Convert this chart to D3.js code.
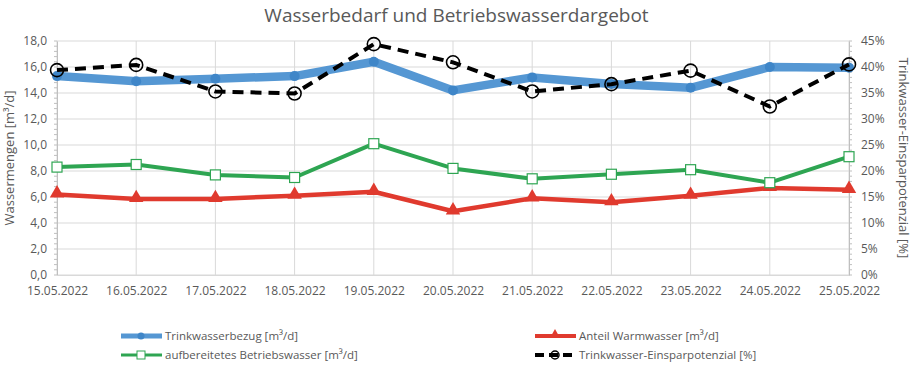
<!DOCTYPE html>
<html>
<head>
<meta charset="utf-8">
<script src="https://cdn.jsdelivr.net/npm/d3@7"></script>
<style>
  body { margin: 0; background: #fff; }
  text { font-family: "Open Sans", "DejaVu Sans", sans-serif; fill: #595959; }
</style>
</head>
<body>
<div id="chart"></div>
<script>
// data
const dates = ["15.05.2022", "16.05.2022", "17.05.2022", "18.05.2022", "19.05.2022", "20.05.2022",
               "21.05.2022", "22.05.2022", "23.05.2022", "24.05.2022", "25.05.2022"];
const trinkwasser = [15.3, 14.9, 15.1, 15.3, 16.4, 14.2, 15.2, 14.7, 14.4, 16.0, 15.95];
const warmwasser = [6.2, 5.85, 5.85, 6.1, 6.4, 4.9, 5.9, 5.6, 6.1, 6.7, 6.55];
const betriebswasser = [8.3, 8.5, 7.7, 7.5, 10.1, 8.2, 7.4, 7.75, 8.1, 7.1, 9.1];
const einsparpotenzial = [39.4, 40.4, 35.3, 34.9, 44.4, 40.9, 35.3, 36.7, 39.3, 32.4, 40.5];
const leftTicks = [0, 2, 4, 6, 8, 10, 12, 14, 16, 18];
const rightTicks = [0, 5, 10, 15, 20, 25, 30, 35, 40, 45];

const W = 913, H = 369;
const margin = {top: 41, right: 64, bottom: 94, left: 57};
const width = W - margin.left - margin.right,
      height = H - margin.top - margin.bottom;

const blue = "#5597d3", red = "#e03a2e", green = "#2ea552", black = "#000";

const svg = d3.select("#chart").append("svg")
  .attr("width", W).attr("height", H);

svg.append("text")
  .attr("x", W / 2).attr("y", 22)
  .attr("text-anchor", "middle")
  .style("font-size", "19px")
  .text("Wasserbedarf und Betriebswasserdargebot");

const g = svg.append("g")
  .attr("transform", "translate(" + margin.left + "," + margin.top + ")");

const xScale = d3.scalePoint().domain(dates).range([0, width]);
const yScale = d3.scaleLinear().domain([0, 18]).range([height, 0]);
const y2Scale = d3.scaleLinear().domain([0, 45]).range([height, 0]);

// grid
g.selectAll(".hgrid").data(leftTicks).join("line")
  .attr("x1", 0).attr("x2", width)
  .attr("y1", d => yScale(d)).attr("y2", d => yScale(d))
  .attr("stroke", "#d9d9d9").attr("stroke-width", 1);
g.selectAll(".vgrid").data(dates).join("line")
  .attr("x1", d => xScale(d)).attr("x2", d => xScale(d))
  .attr("y1", 0).attr("y2", height)
  .attr("stroke", "#d9d9d9").attr("stroke-width", 1);

// axes
const leftAxis = g.append("g")
  .call(d3.axisLeft(yScale).tickValues(leftTicks).tickSize(0).tickPadding(10)
    .tickFormat(d => d3.format(".1f")(d).replace(".", ",")));
const rightAxis = g.append("g")
  .attr("transform", "translate(" + width + ",0)")
  .call(d3.axisRight(y2Scale).tickValues(rightTicks).tickSize(0).tickPadding(12)
    .tickFormat(d => d + "%"));
const bottomAxis = g.append("g")
  .attr("transform", "translate(0," + height + ")")
  .call(d3.axisBottom(xScale).tickSize(0).tickPadding(11));

[leftAxis, rightAxis, bottomAxis].forEach(a => {
  a.select(".domain").attr("stroke", "#bfbfbf");
  a.selectAll("text").style("font-size", "12px").attr("fill", "#595959")
    .style("font-family", "'Open Sans', sans-serif");
});
bottomAxis.select(".domain").attr("stroke", "#d9d9d9");

// minor ticks on the value axes
const minor = d3.range(0, 18.01, 0.4);
g.selectAll(".minL").data(minor).join("line")
  .attr("x1", -3).attr("x2", 0)
  .attr("y1", d => yScale(d)).attr("y2", d => yScale(d))
  .attr("stroke", "#bfbfbf");
g.selectAll(".minR").data(d3.range(0, 45.01, 1)).join("line")
  .attr("x1", width).attr("x2", width + 3)
  .attr("y1", d => y2Scale(d)).attr("y2", d => y2Scale(d))
  .attr("stroke", "#bfbfbf");

// axis titles
svg.append("text")
  .attr("transform", "translate(14," + (margin.top + height / 2) + ") rotate(-90)")
  .attr("text-anchor", "middle")
  .style("font-size", "13px")
  .text("Wassermengen [m³/d]");
svg.append("text")
  .attr("transform", "translate(899," + (margin.top + height / 2) + ") rotate(90)")
  .attr("text-anchor", "middle")
  .style("font-size", "13px")
  .text("Trinkwasser-Einsparpotenzial [%]");

const line = (scale) => d3.line()
  .x((d, i) => xScale(dates[i]))
  .y(d => scale(d));

// Trinkwasserbezug
g.append("path").datum(trinkwasser)
  .attr("d", line(yScale)).attr("fill", "none")
  .attr("stroke", blue).attr("stroke-width", 8.5).attr("stroke-linejoin", "round");
g.selectAll(".pb").data(trinkwasser).join("circle")
  .attr("cx", (d, i) => xScale(dates[i])).attr("cy", d => yScale(d))
  .attr("r", 5).attr("fill", "#3f86c8");

// Anteil Warmwasser
g.append("path").datum(warmwasser)
  .attr("d", line(yScale)).attr("fill", "none")
  .attr("stroke", red).attr("stroke-width", 4.5).attr("stroke-linejoin", "round");
const tri = d3.symbol().type(d3.symbolTriangle).size(90);
g.selectAll(".pr").data(warmwasser).join("path")
  .attr("transform", (d, i) => "translate(" + xScale(dates[i]) + "," + (yScale(d) - 1) + ")")
  .attr("d", tri).attr("fill", red);

// aufbereitetes Betriebswasser
g.append("path").datum(betriebswasser)
  .attr("d", line(yScale)).attr("fill", "none")
  .attr("stroke", green).attr("stroke-width", 4).attr("stroke-linejoin", "round");
g.selectAll(".pg").data(betriebswasser).join("rect")
  .attr("x", (d, i) => xScale(dates[i]) - 5).attr("y", d => yScale(d) - 5)
  .attr("width", 10).attr("height", 10)
  .attr("fill", "#fff").attr("stroke", green).attr("stroke-width", 1.2);

// Trinkwasser-Einsparpotenzial
g.append("path").datum(einsparpotenzial)
  .attr("d", line(y2Scale)).attr("fill", "none")
  .attr("stroke", black).attr("stroke-width", 4)
  .attr("stroke-dasharray", "11,7");
g.selectAll(".pk").data(einsparpotenzial).join("circle")
  .attr("cx", (d, i) => xScale(dates[i])).attr("cy", d => y2Scale(d))
  .attr("r", 6.5).attr("fill", "none")
  .attr("stroke", black).attr("stroke-width", 1.6);

// legend
const legendItems = [
  {name: "Trinkwasserbezug [m³/d]", color: blue, x: 121, y: 336, type: "blue"},
  {name: "Anteil Warmwasser [m³/d]", color: red, x: 535, y: 336, type: "red"},
  {name: "aufbereitetes Betriebswasser [m³/d]", color: green, x: 121, y: 355, type: "green"},
  {name: "Trinkwasser-Einsparpotenzial [%]", color: black, x: 535, y: 355, type: "black"}
];
const lg = svg.append("g").attr("class", "legend");
legendItems.forEach(it => {
  const e = lg.append("g").attr("transform", "translate(" + it.x + "," + it.y + ")");
  const sw = {blue: 5, red: 4, green: 3, black: 4}[it.type];
  e.append("line").attr("x1", 0).attr("x2", 41).attr("y1", 0).attr("y2", 0)
    .attr("stroke", it.color).attr("stroke-width", sw)
    .attr("stroke-dasharray", it.type === "black" ? "9,5" : null);
  if (it.type === "blue") e.append("circle").attr("cx", 20).attr("r", 3.5).attr("fill", "#3f86c8");
  if (it.type === "red") e.append("path").attr("transform", "translate(20,-1)")
    .attr("d", d3.symbol().type(d3.symbolTriangle).size(45)).attr("fill", red);
  if (it.type === "green") e.append("rect").attr("x", 16).attr("y", -4).attr("width", 8).attr("height", 8)
    .attr("fill", "#fff").attr("stroke", green);
  if (it.type === "black") e.append("circle").attr("cx", 20).attr("r", 4)
    .attr("fill", "none").attr("stroke", black).attr("stroke-width", 1.5);
  e.append("text").attr("x", 44).attr("y", 4)
    .style("font-size", "11.5px").attr("fill", "#404040")
    .text(it.name);
});
</script>
</body>
</html>
